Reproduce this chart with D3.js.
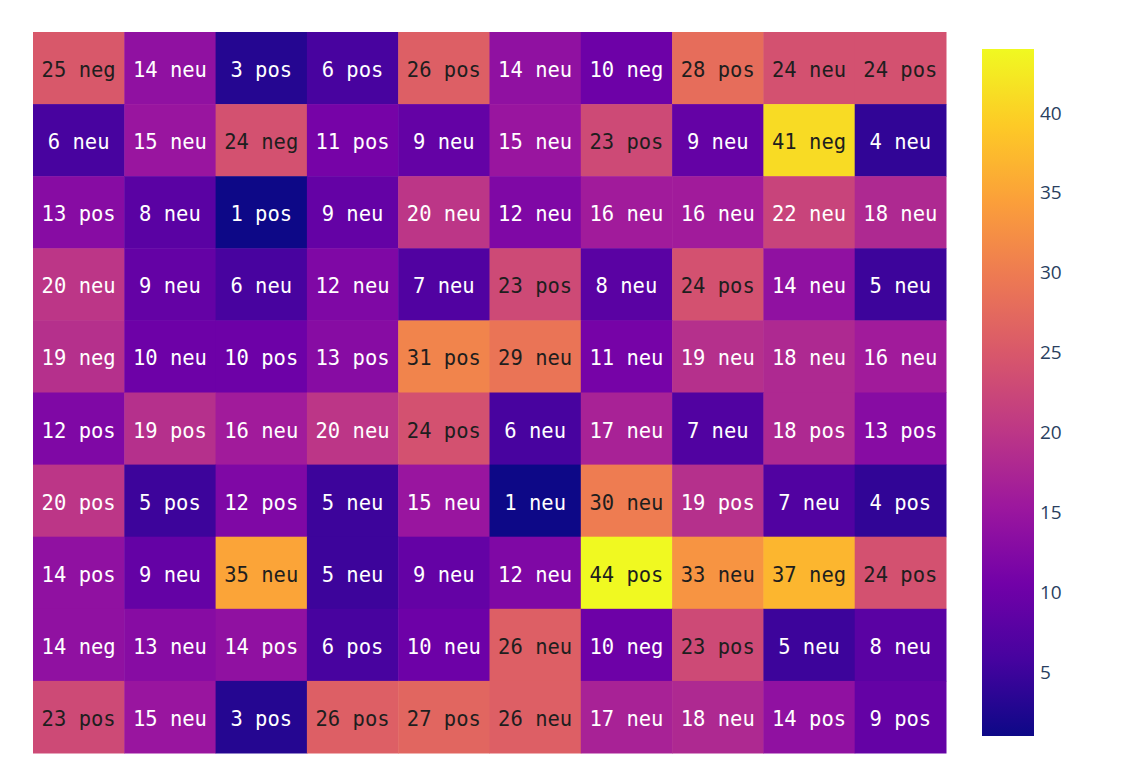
<!DOCTYPE html>
<html><head><meta charset="utf-8">
<script src="https://cdn.jsdelivr.net/npm/d3@7"></script>
<style>body{margin:0;background:#fff;}svg{display:block;}</style>
</head><body><svg id="c" width="1126" height="762"></svg>
<script>
const rows = ["r0","r1","r2","r3","r4","r5","r6","r7","r8","r9"];
const cols = ["c0","c1","c2","c3","c4","c5","c6","c7","c8","c9"];
const values = [
 [25,14,3,6,26,14,10,28,24,24],
 [6,15,24,11,9,15,23,9,41,4],
 [13,8,1,9,20,12,16,16,22,18],
 [20,9,6,12,7,23,8,24,14,5],
 [19,10,10,13,31,29,11,19,18,16],
 [12,19,16,20,24,6,17,7,18,13],
 [20,5,12,5,15,1,30,19,7,4],
 [14,9,35,5,9,12,44,33,37,24],
 [14,13,14,6,10,26,10,23,5,8],
 [23,15,3,26,27,26,17,18,14,9]
];
const labels = [
 ["neg","neu","pos","pos","pos","neu","neg","pos","neu","pos"],
 ["neu","neu","neg","pos","neu","neu","pos","neu","neg","neu"],
 ["pos","neu","pos","neu","neu","neu","neu","neu","neu","neu"],
 ["neu","neu","neu","neu","neu","pos","neu","pos","neu","neu"],
 ["neg","neu","pos","pos","pos","neu","neu","neu","neu","neu"],
 ["pos","pos","neu","neu","pos","neu","neu","neu","pos","pos"],
 ["pos","pos","pos","neu","neu","neu","neu","pos","neu","pos"],
 ["pos","neu","neu","neu","neu","neu","pos","neu","neg","pos"],
 ["neg","neu","pos","pos","neu","neu","neg","pos","neu","neu"],
 ["pos","neu","pos","pos","pos","neu","neu","neu","pos","pos"]
];
const colorTicks = [5,10,15,20,25,30,35,40];
const plasma = ["#0d0887","#46039f","#7201a8","#9c179e","#bd3786","#d8576b","#ed7953","#fb9f3a","#fdca26","#f0f921"];

const svg = d3.select("#c");
const L=33,T=32,R=946,B=753;
const x = d3.scaleBand().domain(cols).range([L,R]);
const y = d3.scaleBand().domain(rows).range([T,B]);
const flat = values.flat();
const vmin = d3.min(flat), vmax = d3.max(flat);
const color = d3.scaleLinear()
  .domain(plasma.map((_,i)=>vmin+(vmax-vmin)*i/(plasma.length-1)))
  .range(plasma).interpolate(d3.interpolateRgb);

const cells = [];
rows.forEach((r,i)=>cols.forEach((c,j)=>cells.push({r,c,v:values[i][j],t:labels[i][j]})));

svg.append("g").selectAll("rect").data(cells).join("rect")
  .attr("x",d=>x(d.c)).attr("y",d=>y(d.r))
  .attr("width",x.bandwidth()+0.5).attr("height",y.bandwidth()+0.5)
  .attr("fill",d=>color(d.v));

function isLight(c){const o=d3.rgb(c);return (o.r*299+o.g*587+o.b*114)/1000>=116;}
svg.append("g").selectAll("text").data(cells).join("text")
  .attr("x",d=>x(d.c)+x.bandwidth()/2)
  .attr("y",d=>y(d.r)+y.bandwidth()/2+2)
  .attr("text-anchor","middle").attr("dominant-baseline","central")
  .attr("font-family","DejaVu Sans Mono, monospace").attr("font-size",20.5)
  .attr("fill",d=>isLight(color(d.v))?"#1e1e1e":"#fff")
  .text(d=>d.v+" "+d.t);

// colorbar
const cbL=982, cbW=52, cbT=49, cbB=736;
const cy = d3.scaleLinear().domain([vmin,vmax]).range([cbB,cbT]);
const defs = svg.append("defs");
const grad = defs.append("linearGradient").attr("id","g").attr("x1",0).attr("y1",1).attr("x2",0).attr("y2",0);
plasma.forEach((c,i)=>grad.append("stop").attr("offset",i/(plasma.length-1)).attr("stop-color",c));
svg.append("rect").attr("x",cbL).attr("y",cbT).attr("width",cbW).attr("height",cbB-cbT).attr("fill","url(#g)");
const ax = svg.append("g").attr("transform",`translate(${cbL+cbW},0)`)
  .call(d3.axisRight(cy).tickValues(colorTicks).tickSize(0).tickPadding(6));
ax.select(".domain").remove();
ax.selectAll("text").attr("font-family","Open Sans, sans-serif").attr("font-size",19).attr("fill","#2a3f5f");
</script></body></html>
